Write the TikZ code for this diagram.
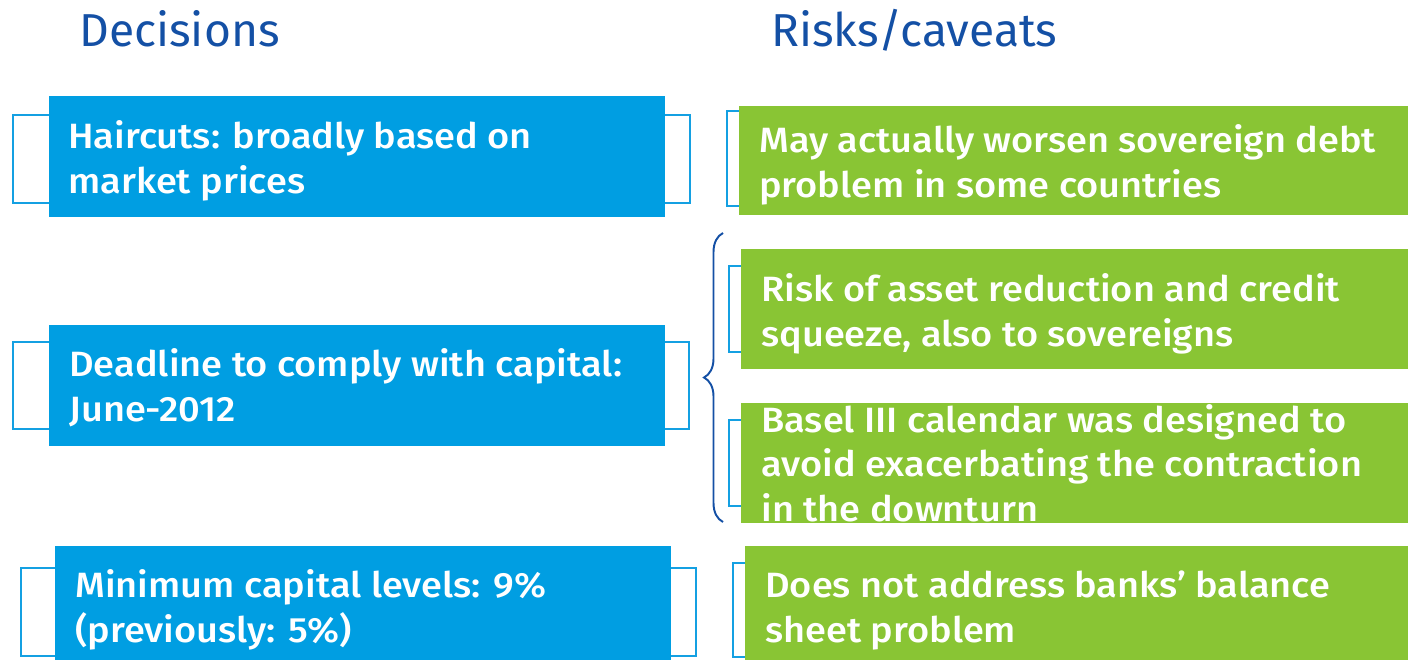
\documentclass[tikz,border=0pt]{standalone}
\usepackage{fontspec}
\setmainfont{Fira Sans}
\newfontfamily\boxfont[FakeStretch=1.08]{Fira Sans Medium}
\usetikzlibrary{decorations.pathreplacing}
\definecolor{headblue}{RGB}{20,80,165}
\definecolor{boxblue}{RGB}{0,158,226}
\definecolor{boxgreen}{RGB}{137,197,52}
\definecolor{lineblue}{RGB}{20,160,226}

\begin{document}
\begin{tikzpicture}[x = 0.02cm, y = -0.02cm,
    frame/.style = {draw = lineblue, line width = 1.1pt},
    heading/.style = {anchor = base west, inner sep = 0pt, text = headblue, font = \fontsize{26.3}{32}\selectfont},
    boxtext/.style = {anchor = base west, inner sep = 0pt, align = left, text = white, font = \boxfont\fontsize{20}{25.2}\selectfont},
    brace/.style = {decorate, decoration = {brace, amplitude = 0.38cm}, draw = headblue, line width = 1.1pt}]
        \useasboundingbox (0, 0) rectangle (1408, 659);
        \clip (0, 0) rectangle (1408, 659);
        % headings
        \node[heading] (dech) at (79, 46) {Decisions};
        \node[heading] (riskh) at (771, 46) {Risks/caveats};
        % decisions (anchored at the last line)
        \draw[frame] (13, 115) rectangle (690, 203);
        \fill[boxblue] (49, 96) rectangle (665, 217);
        \node[boxtext] (d1) at (68, 193) {Haircuts: broadly based on\\market prices};
        \draw[frame] (13, 342) rectangle (689, 429);
        \fill[boxblue] (49, 325) rectangle (665, 446);
        \node[boxtext] (d2) at (69, 421) {Deadline to comply with capital:\\June-2012};
        \draw[frame] (21, 568) rectangle (696, 656);
        \fill[boxblue] (55, 546) rectangle (671, 670);
        \node[boxtext] (d3) at (75, 642) {Minimum capital levels: 9\%\\(previously: 5\%)};
        % risks
        \draw[frame] (727, 111) rectangle (1430, 206);
        \fill[boxgreen] (739, 106) rectangle (1430, 215);
        \node[boxtext] (r1) at (759, 197) {May actually worsen sovereign debt\\problem in some countries};
        \draw[frame] (729, 266) rectangle (1430, 352);
        \fill[boxgreen] (741, 249) rectangle (1430, 369);
        \node[boxtext] (r2) at (761, 346) {Risk of asset reduction and credit\\squeeze, also to sovereigns};
        \draw[frame] (729, 420) rectangle (1430, 506);
        \fill[boxgreen] (741, 403) rectangle (1430, 523);
        \node[boxtext] (r3) at (761, 521) {Basel III calendar was designed to\\avoid exacerbating the contraction\\in the downturn};
        \draw[frame] (733, 563) rectangle (1430, 657);
        \fill[boxgreen] (745, 546) rectangle (1430, 670);
        \node[boxtext] (r4) at (765, 642) {Does not address banks’ balance\\sheet problem};
        % brace
        \coordinate (bb) at (723, 522);
        \coordinate (bt) at (723, 233);
        \draw[brace] (bb) -- (bt);
      \end{tikzpicture}
\end{document}
